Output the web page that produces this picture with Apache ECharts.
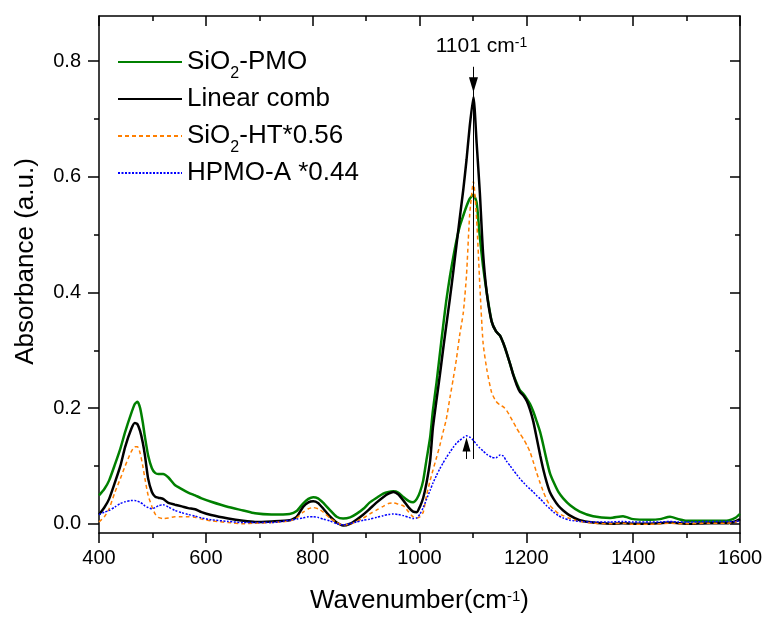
<!DOCTYPE html>
<html>
<head>
<meta charset="utf-8">
<script src="https://cdn.jsdelivr.net/npm/echarts@6/dist/echarts.min.js"></script>
<style>
  html, body { margin: 0; padding: 0; background: #fff; }
  #chart { width: 767px; height: 619px; }
</style>
</head>
<body>
<div id="chart"></div>
<script>
// ---- Data ----
const wavenumbers = [400,410,419,430,440,449,460,467,472,477,482,486,492,499,505,511,520,530,542,555,567,580,592,610,642,670,692,723,757,770,782,792,801,810,820,832,845,857,870,882,895,907,920,932,942,951,960,970,980,988,995,1001,1007,1013,1020,1025,1032,1038,1044,1050,1057,1063,1069,1075,1082,1088,1094,1101,1107,1113,1119,1126,1135,1143,1151,1157,1163,1170,1176,1182,1188,1195,1201,1207,1213,1219,1226,1232,1238,1244,1251,1260,1269,1282,1300,1325,1357,1381,1400,1431,1450,1469,1485,1500,1543,1575,1591,1600];

// SiO2-PMO
const pmoAbs = [0.049,0.060,0.075,0.103,0.130,0.159,0.190,0.207,0.211,0.200,0.175,0.150,0.118,0.096,0.088,0.086,0.086,0.080,0.067,0.060,0.054,0.049,0.044,0.038,0.029,0.023,0.018,0.016,0.017,0.022,0.035,0.043,0.046,0.044,0.036,0.024,0.012,0.009,0.011,0.017,0.026,0.037,0.045,0.052,0.055,0.056,0.054,0.046,0.039,0.037,0.043,0.055,0.075,0.110,0.150,0.195,0.245,0.293,0.340,0.385,0.428,0.460,0.489,0.513,0.533,0.549,0.562,0.569,0.555,0.495,0.445,0.399,0.350,0.333,0.325,0.312,0.296,0.275,0.257,0.243,0.231,0.224,0.216,0.207,0.194,0.178,0.158,0.135,0.110,0.088,0.072,0.055,0.044,0.032,0.021,0.013,0.010,0.013,0.008,0.007,0.008,0.012,0.008,0.005,0.005,0.005,0.010,0.017];

// Linear comb
const combAbs = [0.016,0.028,0.043,0.072,0.100,0.133,0.163,0.174,0.172,0.160,0.140,0.118,0.078,0.055,0.047,0.045,0.043,0.036,0.033,0.030,0.027,0.025,0.020,0.015,0.009,0.005,0.003,0.004,0.006,0.012,0.029,0.037,0.039,0.036,0.026,0.013,0.002,-0.003,0.000,0.007,0.016,0.026,0.037,0.046,0.052,0.055,0.051,0.040,0.028,0.021,0.020,0.030,0.045,0.070,0.110,0.165,0.215,0.256,0.300,0.342,0.390,0.434,0.480,0.526,0.578,0.629,0.687,0.738,0.658,0.572,0.468,0.399,0.350,0.333,0.325,0.312,0.296,0.275,0.256,0.240,0.228,0.221,0.212,0.197,0.177,0.150,0.118,0.093,0.072,0.055,0.043,0.031,0.023,0.014,0.006,0.002,0.000,0.001,0.000,0.000,0.001,0.002,0.001,0.000,0.001,0.001,0.004,0.008];

// SiO2-HT*0.56
const htAbs = [0.003,0.012,0.026,0.055,0.078,0.100,0.124,0.133,0.133,0.122,0.100,0.078,0.049,0.030,0.017,0.011,0.009,0.010,0.012,0.012,0.012,0.011,0.008,0.005,0.002,0.000,0.001,0.002,0.005,0.010,0.020,0.026,0.028,0.026,0.020,0.010,0.002,-0.002,-0.001,0.004,0.010,0.017,0.024,0.030,0.035,0.036,0.034,0.031,0.020,0.012,0.010,0.012,0.020,0.048,0.075,0.092,0.115,0.135,0.158,0.180,0.218,0.250,0.284,0.325,0.365,0.430,0.535,0.592,0.526,0.411,0.313,0.267,0.227,0.212,0.205,0.202,0.196,0.185,0.175,0.165,0.156,0.146,0.136,0.124,0.107,0.089,0.070,0.055,0.042,0.032,0.025,0.018,0.014,0.009,0.004,0.001,0.000,0.001,-0.001,-0.001,0.000,0.001,0.000,0.000,0.001,0.001,0.003,0.006];

// HPMO-A *0.44
const hpmoAbs = [0.016,0.020,0.023,0.029,0.035,0.038,0.040,0.040,0.039,0.037,0.034,0.031,0.028,0.026,0.028,0.031,0.033,0.029,0.023,0.019,0.016,0.013,0.010,0.007,0.004,0.002,0.002,0.002,0.006,0.008,0.010,0.012,0.012,0.011,0.008,0.005,0.000,-0.002,0.000,0.003,0.006,0.008,0.011,0.014,0.016,0.017,0.016,0.014,0.011,0.009,0.010,0.017,0.028,0.042,0.058,0.070,0.084,0.095,0.105,0.114,0.124,0.132,0.139,0.144,0.149,0.152,0.150,0.144,0.137,0.131,0.126,0.120,0.115,0.114,0.119,0.117,0.108,0.100,0.092,0.085,0.078,0.071,0.065,0.060,0.055,0.049,0.043,0.037,0.031,0.026,0.020,0.014,0.010,0.006,0.004,0.003,0.003,0.004,0.003,0.003,0.003,0.004,0.003,0.003,0.004,0.004,0.004,0.005];

const seriesNames = ['SiO2-PMO', 'Linear comb', 'SiO2-HT*0.56', 'HPMO-A *0.44'];
const yMajorTicks = [0, 0.2, 0.4, 0.6, 0.8];
const yMinorTicks = [0.1, 0.3, 0.5, 0.7];
const peakWn = 1101;        // annotated peak position
const peakLabel = '1101 cm';
const helperWn = 1088;      // small up-arrow (HPMO-A maximum)

const FONT = 'Liberation Sans, Arial, sans-serif';
const pair = arr => wavenumbers.map((w, i) => [w, arr[i]]);

const axisLineStyle = { color: '#000', width: 1.5 };
const Y_MIN = -0.016, Y_MAX = 0.878;

function yAxisDef(position, ticks, len, inside, withLine, withLabel) {
  return {
    type: 'value', min: Y_MIN, max: Y_MAX, position: position, offset: 0,
    axisLine: { show: withLine, lineStyle: axisLineStyle },
    axisTick: { show: true, inside: inside, length: len, customValues: ticks, lineStyle: axisLineStyle },
    axisLabel: { show: withLabel, customValues: ticks, formatter: v => v.toFixed(1),
                 fontSize: 20, color: '#000', fontFamily: FONT, margin: 18 },
    splitLine: { show: false }
  };
}

const yLeft = yAxisDef('left', yMajorTicks, 11, false, true, true);
yLeft.name = 'Absorbance (a.u.)';
yLeft.nameLocation = 'middle';
yLeft.nameGap = 60;
yLeft.nameTextStyle = { fontSize: 26, color: '#000', fontFamily: FONT, padding: [0, 0, 0, 26] };

function xAxisDef(position, inside, withLabel) {
  return {
    type: 'value', min: 400, max: 1600, interval: 200, position: position,
    axisLine: { show: true, onZero: false, lineStyle: axisLineStyle },
    axisTick: { show: true, inside: inside, length: 10, lineStyle: axisLineStyle },
    minorTick: { show: true, splitNumber: 2, length: 5, lineStyle: axisLineStyle },
    splitLine: { show: false }, minorSplitLine: { show: false },
    axisLabel: { show: withLabel, formatter: v => String(v), fontSize: 20, color: '#000', fontFamily: FONT, margin: 15 }
  };
}
const xBottom = xAxisDef('bottom', false, true);
xBottom.name = '{t|Wavenumber(cm}{s|-1}{t|)}';
xBottom.nameLocation = 'middle';
xBottom.nameGap = 53;
xBottom.nameTextStyle = {
  rich: {
    t: { fontSize: 26, color: '#000', fontFamily: FONT, lineHeight: 30, verticalAlign: 'middle' },
    s: { fontSize: 15, color: '#000', fontFamily: FONT, lineHeight: 15, padding: [0, 0, 8, 0], verticalAlign: 'middle' }
  }
};

const colors = ['#008000', '#000000', '#FF7F00', '#0000FF'];
const datasets = [pmoAbs, combAbs, htAbs, hpmoAbs];
const lineStyles = [
  { width: 2.5, type: 'solid' },
  { width: 2.5, type: 'solid' },
  { width: 1.5, type: [4, 3] },
  { width: 1.5, type: [2, 1.5] }
];

const series = seriesNames.map((name, i) => ({
  name: name, type: 'line', xAxisIndex: 0, yAxisIndex: 0,
  data: pair(datasets[i]),
  symbol: 'none', showSymbol: false, smooth: 0.2,
  color: colors[i],
  lineStyle: Object.assign({ color: colors[i] }, lineStyles[i]),
  z: 2 + i
}));

// annotation on the "Linear comb" series
series[1].markLine = {
  silent: true, animation: false,
  symbol: ['none', 'none'],
  lineStyle: { color: '#000', width: 1, type: 'solid' },
  label: { show: false },
  emphasis: { disabled: true },
  data: [
    [{ coord: [peakWn, 0.790] }, { coord: [peakWn, 0.112] }],
    [{ coord: [peakWn, 0.790], symbol: 'none' }, { coord: [peakWn, 0.759], symbol: 'triangle', symbolSize: [9, 15] }],
    [{ coord: [helperWn, 0.112], symbol: 'none' }, { coord: [helperWn, 0.137], symbol: 'triangle', symbolSize: [8, 14] }]
  ]
};
series[1].markPoint = {
  silent: true, animation: false,
  symbol: 'circle', symbolSize: 0,
  data: [{
    coord: [peakWn, 0.826],
    label: {
      show: true, position: 'inside', offset: [8, 0],
      formatter: '{a|' + peakLabel + '}{s|-1}',
      rich: {
        a: { fontSize: 21, color: '#000', fontFamily: FONT, lineHeight: 24, verticalAlign: 'middle' },
        s: { fontSize: 14, color: '#000', fontFamily: FONT, lineHeight: 14, padding: [0, 0, 6, 0], verticalAlign: 'middle' }
      }
    }
  }]
};

const option = {
  animation: false,
  backgroundColor: '#fff',
  grid: { left: 99, right: 27, top: 16, bottom: 85 },
  legend: {
    orient: 'vertical', left: 117, top: 42, padding: 0,
    itemWidth: 64, itemHeight: 14, itemGap: 4,
    data: seriesNames,
    itemStyle: { opacity: 0 },
    formatter: name => {
      const parts = name.split('SiO2');
      if (parts.length > 1) return '{t|SiO}{sub|2}{t|' + parts[1] + '}';
      return '{t|' + name + '}';
    },
    textStyle: {
      rich: {
        t: { fontSize: 26, color: '#000', fontFamily: FONT, lineHeight: 30, verticalAlign: 'middle' },
        sub: { fontSize: 16, color: '#000', fontFamily: FONT, lineHeight: 16, padding: [24, 0, 0, 0], verticalAlign: 'middle' }
      }
    }
  },
  xAxis: [xBottom, xAxisDef('top', true, false)],
  yAxis: [
    yLeft,
    yAxisDef('left', yMinorTicks, 5, false, false, false),
    yAxisDef('right', yMajorTicks, 10, true, true, false),
    yAxisDef('right', yMinorTicks, 5, true, false, false)
  ],
  series: series
};

const chart = echarts.init(document.getElementById('chart'), null, { renderer: 'canvas' });
chart.setOption(option);
</script>
</body>
</html>
